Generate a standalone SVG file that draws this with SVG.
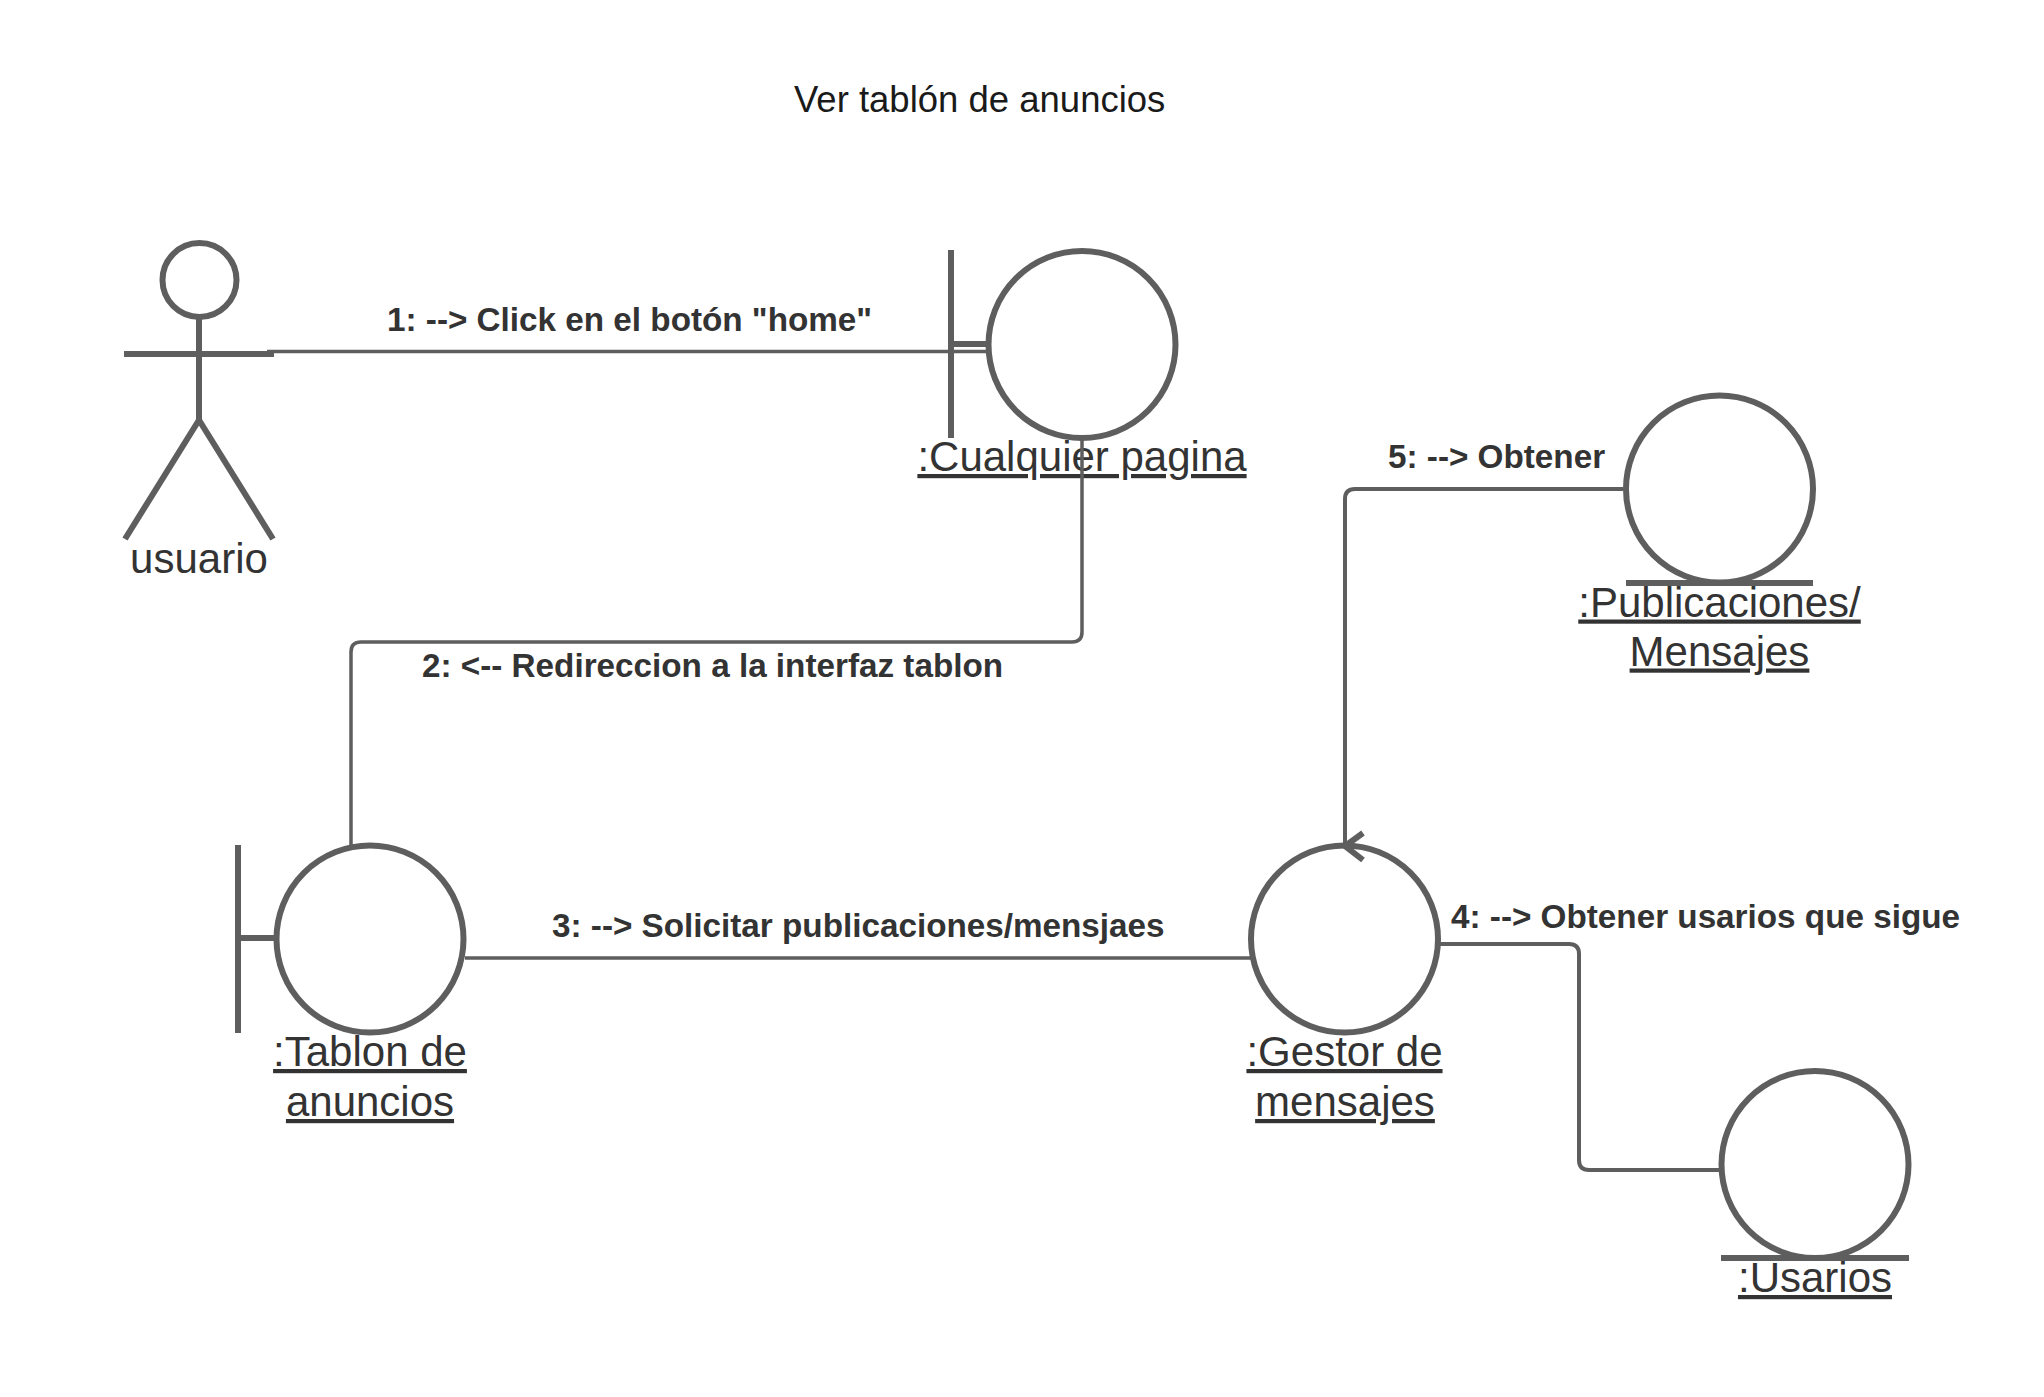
<svg xmlns="http://www.w3.org/2000/svg" width="2044" height="1397" viewBox="0 0 2044 1397">
<style>
text{font-family:"Liberation Sans",Arial,sans-serif;fill:#333}
.t{font-size:36.5px;fill:#1a1a1a}
.n{font-size:42px;text-anchor:middle}
.u{text-decoration:underline}
.m{font-size:33.25px;font-weight:bold}
.s{fill:#fff;stroke:#5e5e5e;stroke-width:6}
.b{fill:none;stroke:#5e5e5e;stroke-width:6}
.c{fill:none;stroke:#5e5e5e;stroke-width:3.5}
.d{fill:none;stroke:#5e5e5e;stroke-width:4}
</style>
<rect width="2044" height="1397" fill="#fff"/>
<text class="t" x="794" y="112">Ver tablón de anuncios</text>
<g id="actor-usuario">
<circle class="s" cx="199.500" cy="280" r="37"/>
<path class="b" d="M199 318V420M124 354H274M199 420L125 539M199 420L273 539"/>
<text class="n" x="199" y="573">usuario</text>
</g>
<g id="node-cualquier">
<circle class="s" cx="1082" cy="344.500" r="93.500"/>
<path class="b" d="M951 250V438M951 344H990"/>
<text class="n u" x="1082" y="471">:Cualquier pagina</text>
</g>
<g id="node-tablon">
<circle class="s" cx="370" cy="939" r="93.500"/>
<path class="b" d="M238 845V1033M238 938H276"/>
<text class="n u" x="370" y="1066">:Tablon de</text>
<text class="n u" x="370" y="1116">anuncios</text>
</g>
<g id="node-gestor">
<circle class="s" cx="1344.500" cy="939" r="93.500"/>
<text class="n u" x="1344.500" y="1066">:Gestor de</text>
<text class="n u" x="1345" y="1116">mensajes</text>
</g>
<g id="node-publicaciones">
<circle class="s" cx="1719.500" cy="489" r="93.500"/>
<path class="b" d="M1626 583H1813"/>
<text class="n u" x="1719.500" y="616.500">:Publicaciones/</text>
<text class="n u" x="1719.500" y="665.500">Mensajes</text>
</g>
<g id="node-usarios">
<circle class="s" cx="1815" cy="1164.500" r="93.500"/>
<path class="b" d="M1721 1258H1909"/>
<text class="n u" x="1815" y="1292">:Usarios</text>
</g>
<g id="connectors">
<path class="c" d="M267 351.500H990"/>
<path class="c" d="M1082 440V632Q1082 642 1072 642H361Q351 642 351 652V845"/>
<path class="c" d="M465 958H1251"/>
<path class="d" d="M1440 944H1569Q1579 944 1579 954V1160Q1579 1170 1589 1170H1722"/>
<path class="d" d="M1623 489H1355Q1345 489 1345 499V846"/>
<path class="b" d="M1363 833L1345 846L1363 860" stroke-width="5"/>
</g>
<g id="labels">
<text class="m" x="387" y="331">1: --&gt; Click en el botón "home"</text>
<text class="m" x="422" y="677">2: &lt;-- Redireccion a la interfaz tablon</text>
<text class="m" x="552" y="937">3: --&gt; Solicitar publicaciones/mensjaes</text>
<text class="m" x="1451" y="928">4: --&gt; Obtener usarios que sigue</text>
<text class="m" x="1388" y="468">5: --&gt; Obtener</text>
</g>
</svg>
